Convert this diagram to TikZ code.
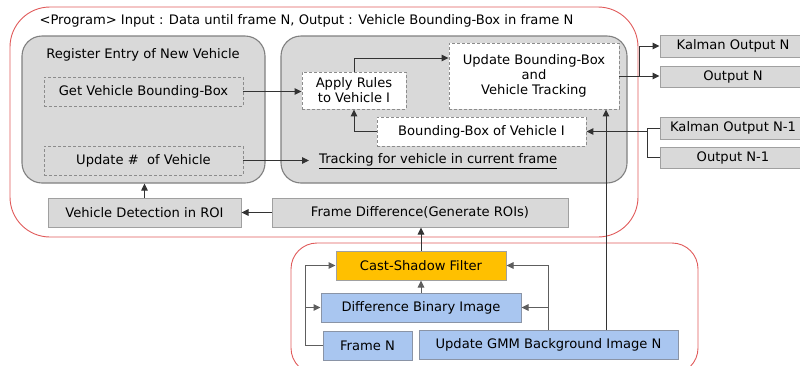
\documentclass[tikz,border=0pt]{standalone}
\usepackage{fontspec}
\setmainfont{DejaVu Sans}
\usetikzlibrary{arrows.meta}

\definecolor{framered}{HTML}{E05A5A}
\definecolor{panelfill}{HTML}{D9D9D9}
\definecolor{paneledge}{HTML}{808080}
\definecolor{boxfill}{HTML}{D9D9D9}
\definecolor{boxedge}{HTML}{A0A0A0}
\definecolor{dashedge}{HTML}{8C8C8C}
\definecolor{filterfill}{HTML}{FFC000}
\definecolor{imgfill}{HTML}{A9C6F0}
\definecolor{imgedge}{HTML}{8A94A6}
\definecolor{linkdark}{HTML}{333333}
\definecolor{linkgray}{HTML}{5E5E5E}

\tikzset{
  txt/.style={font=\fontsize{13.1}{15}\selectfont, text=black},
  frame/.style={draw=framered, line width=0.9pt},
  panel/.style={draw=paneledge, fill=panelfill, line width=1.1pt,
    rounded corners=20pt, inner sep=0pt},
  graybox/.style={txt, draw=boxedge, fill=boxfill, line width=1pt, inner sep=0pt},
  dashbox/.style={txt, draw=dashedge, dashed, dash pattern=on 3pt off 2pt,
    line width=0.9pt, inner sep=0pt, align=center},
  whitebox/.style={dashbox, fill=white},
  filterbox/.style={txt, draw=boxedge, fill=filterfill, line width=1pt, inner sep=0pt},
  imgbox/.style={txt, draw=imgedge, fill=imgfill, line width=1pt, inner sep=0pt},
  link/.style={draw=linkdark, line width=1pt, -{Triangle[length=7pt,width=6.5pt]}},
  plain/.style={draw=linkdark, line width=1pt},
  linkb/.style={draw=linkgray, line width=1pt, -{Triangle[length=7pt,width=6.5pt]}},
  plainb/.style={draw=linkgray, line width=1pt},
}

\begin{document}
\begin{tikzpicture}[x=1pt, y=-1pt]
\useasboundingbox (0,0) rectangle (800,365);

% outer program frame and the background-model frame
\draw[frame, rounded corners=40pt] (10,7) rectangle (638,237);
\draw[frame, rounded corners=26pt] (291,243) rectangle (698,374);

\node[txt, anchor=west] (title) at (36,21)
  {<Program> Input : Data until frame N, Output : Vehicle Bounding-Box in frame N};

% two inner panels
\node[panel, minimum width=243pt, minimum height=147pt] (regpanel) at (143.5,109.5) {};
\node[panel, minimum width=346pt, minimum height=147pt] (trkpanel) at (454,109.5) {};

\node[txt] (regtitle) at (143,55) {Register Entry of New Vehicle};
\node[dashbox, minimum width=199pt, minimum height=29pt] (getbb) at (143.5,91.5) {Get Vehicle Bounding-Box};
\node[dashbox, minimum width=199pt, minimum height=29pt] (updnum) at (143.5,160.5) {Update \#\ \ of Vehicle};

\node[whitebox, minimum width=104pt, minimum height=37pt] (apply) at (354,90.5) {Apply Rules\\to Vehicle I};
\node[whitebox, minimum width=170pt, minimum height=66pt] (updbb) at (534,76) {Update Bounding-Box\\and\\Vehicle Tracking};
\node[whitebox, minimum width=209pt, minimum height=29pt] (bbveh) at (481.5,131.5) {Bounding-Box of Vehicle I};
\node[txt, anchor=west, inner xsep=10pt] (track) at (309,161) {\underline{Tracking for vehicle in current frame}};

% outputs and previous-frame inputs
\node[graybox, minimum width=146pt, minimum height=22pt] (kout) at (733,46) {Kalman Output N};
\node[graybox, minimum width=146pt, minimum height=21pt] (outn) at (733,76.5) {Output N};
\node[graybox, minimum width=146pt, minimum height=22pt] (kout1) at (733,128) {Kalman Output N-1};
\node[graybox, minimum width=146pt, minimum height=21pt] (out1) at (733,157.5) {Output N-1};

% detection row
\node[graybox, minimum width=193pt, minimum height=29pt] (vdet) at (144.5,212.5) {Vehicle Detection in ROI};
\node[graybox, minimum width=296pt, minimum height=29pt] (fdiff) at (420,212.5) {Frame Difference(Generate ROIs)};

% background model
\node[filterbox, minimum width=170pt, minimum height=29pt] (cast) at (421,265.5) {Cast-Shadow Filter};
\node[imgbox, minimum width=200pt, minimum height=29pt] (dbin) at (421,307.5) {Difference Binary Image};
\node[imgbox, minimum width=89pt, minimum height=29pt] (framen) at (367.5,345.5) {Frame N};
\node[imgbox, minimum width=259pt, minimum height=29pt] (gmm) at (548.5,345) {Update GMM Background Image N};

% connectors inside the program frame
\draw[link] (getbb.east) -- (getbb.east -| apply.west);
\draw[link] (updnum.east) -- (updnum.east -| track.west);
\draw[link] (apply.north) |- ([yshift=18pt]updbb.west);
\draw[link] (bbveh.west) -| (apply.south);

\coordinate (outsplit) at (639,76);
\draw[link] (updbb.east) -- (updbb.east -| outn.west);
\draw[link] (outsplit) |- (kout.west);

\coordinate (insplit) at (647,128);
\draw[plain] (kout1.west) -- (insplit) |- (out1.west);
\draw[link] (insplit |- bbveh.east) -- (bbveh.east);

\draw[link] (fdiff.west) -- (vdet.east);
\draw[link] (vdet.north) -- (vdet.north |- regpanel.south);
\draw[link] (cast.north) -- (cast.north |- fdiff.south);

% connectors of the background model
\draw[linkb] (dbin.north) -- (cast.south);
\coordinate (fbus) at (305,0);
\draw[linkb] (framen.west) -- (framen.west -| fbus) |- (cast.west);
\draw[linkb] (fbus |- dbin.west) -- (dbin.west);
\coordinate (gbus) at (548,0);
\draw[linkb] (gbus |- gmm.north) |- (cast.east);
\draw[linkb] (gbus |- dbin.east) -- (dbin.east);
\coordinate (gup) at (606,0);
\draw[link] (gup |- gmm.north) -- (gup |- updbb.south);
\end{tikzpicture}
\end{document}
